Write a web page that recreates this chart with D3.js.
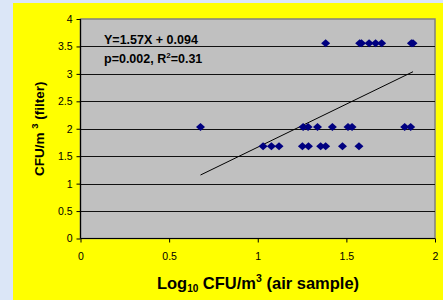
<!doctype html>
<html lang="en">
<head>
<meta charset="utf-8">
<title>CFU filter vs air sample</title>
<script src="https://cdn.jsdelivr.net/npm/d3@7"></script>
<style>
  html, body { margin: 0; padding: 0; }
  body { background: #dbe6f7; font-family: Arial, "Liberation Sans", sans-serif; }
  svg { display: block; }
</style>
</head>
<body>
<svg width="443" height="300"></svg>
<script>
  // data
  var xHigh = [1.383, 1.575, 1.585, 1.628, 1.665, 1.699, 1.867, 1.876];
  var yHigh = 3.56;
  var xMid = [0.677, 1.256, 1.284, 1.337, 1.421, 1.509, 1.532, 1.829, 1.863];
  var yMid = 2.03;
  var xLow = [1.030, 1.077, 1.120, 1.252, 1.286, 1.355, 1.383, 1.478, 1.571];
  var yLow = 1.68;
  var slope = 1.57, intercept = 0.094;
  var xTicks = [0, 0.5, 1, 1.5, 2];
  var yTicks = [0, 0.5, 1, 1.5, 2, 2.5, 3, 3.5, 4];

  var points = [];
  xHigh.forEach(function(x) { points.push({x: x, y: yHigh}); });
  xMid.forEach(function(x) { points.push({x: x, y: yMid}); });
  xLow.forEach(function(x) { points.push({x: x, y: yLow}); });

  var svg = d3.select("svg");

  // yellow panel
  svg.append("rect")
    .attr("x", 13).attr("y", 3)
    .attr("width", 430).attr("height", 297)
    .attr("fill", "#ffff00");

  // plot area edges (not named top/left: those clash with window.top)
  var pLeft = 80.5, pRight = 435, pTop = 19, pBottom = 238.5;

  var x = d3.scaleLinear().domain([0, 2]).range([pLeft, pRight]);
  var y = d3.scaleLinear().domain([0, 4]).range([pBottom, pTop]);

  // plot area
  svg.append("rect")
    .attr("x", pLeft).attr("y", pTop)
    .attr("width", pRight - pLeft).attr("height", pBottom - pTop)
    .attr("fill", "#c0c0c0")
    .attr("stroke", "#808080")
    .attr("stroke-width", 1.5);

  // gridlines
  svg.append("g")
    .selectAll("line")
    .data(yTicks.filter(function(d) { return d > 0 && d < 4; }))
    .join("line")
    .attr("x1", pLeft).attr("x2", pRight)
    .attr("y1", function(d) { return Math.round(y(d)) + 0.5; })
    .attr("y2", function(d) { return Math.round(y(d)) + 0.5; })
    .attr("stroke", "#111")
    .attr("stroke-width", 1);

  // axes
  var yAxis = svg.append("g")
    .attr("transform", "translate(" + pLeft + ",0)")
    .call(d3.axisLeft(y).tickValues(yTicks).tickSize(4).tickPadding(4).tickFormat(d3.format("")));
  var xAxis = svg.append("g")
    .attr("transform", "translate(0," + pBottom + ")")
    .call(d3.axisBottom(x).tickValues(xTicks).tickSize(4).tickPadding(10).tickFormat(d3.format("")));

  [yAxis, xAxis].forEach(function(a) {
    a.select(".domain").attr("stroke", "#000").attr("stroke-width", 1.2);
    a.selectAll(".tick line").attr("stroke", "#000");
    a.selectAll("text")
      .attr("fill", "#000")
      .attr("font-size", 10.5)
      .attr("font-family", "Arial, 'Liberation Sans', sans-serif");
  });
  // drop the outer end stubs of the domain path
  yAxis.select(".domain").attr("d", "M0," + pTop + "V" + pBottom);
  xAxis.select(".domain").attr("d", "M" + pLeft + ",0H" + pRight);

  // trend line
  var xr = d3.extent(points, function(d) { return d.x; });
  svg.append("line")
    .attr("x1", x(xr[0])).attr("y1", y(slope * xr[0] + intercept))
    .attr("x2", x(xr[1])).attr("y2", y(slope * xr[1] + intercept))
    .attr("stroke", "#000")
    .attr("stroke-width", 1);

  // diamonds
  svg.append("g")
    .selectAll("path")
    .data(points)
    .join("path")
    .attr("transform", function(d) { return "translate(" + x(d.x) + "," + y(d.y) + ")"; })
    .attr("d", "M0,-4L4.5,0L0,4L-4.5,0Z")
    .attr("fill", "#000080");

  // equation text
  var eq = svg.append("g")
    .attr("font-size", 12.5)
    .attr("font-weight", "bold")
    .attr("fill", "#000");
  eq.append("text").attr("x", 104).attr("y", 44).text("Y=1.57X + 0.094");
  var t2 = eq.append("text").attr("x", 104).attr("y", 63);
  t2.append("tspan").text("p=0.002, R");
  t2.append("tspan").attr("font-size", 8).attr("dy", -5).text("2");
  t2.append("tspan").attr("dy", 5).text("=0.31");

  // y title
  var yt = svg.append("text")
    .attr("transform", "translate(44," + ((pTop + pBottom) / 2) + ") rotate(-90)")
    .attr("text-anchor", "middle")
    .attr("font-size", 13.5)
    .attr("font-weight", "bold");
  yt.append("tspan").text("CFU/m ");
  yt.append("tspan").attr("font-size", 9.5).attr("dy", -6).text("3");
  yt.append("tspan").attr("dy", 6).text(" (filter)");

  // x title
  var xt = svg.append("text")
    .attr("x", 258).attr("y", 289)
    .attr("text-anchor", "middle")
    .attr("font-size", 16.5)
    .attr("font-weight", "bold");
  xt.append("tspan").text("Log");
  xt.append("tspan").attr("font-size", 10).attr("dy", 3).text("10");
  xt.append("tspan").attr("dy", -3).text(" CFU/m");
  xt.append("tspan").attr("font-size", 10.5).attr("dy", -7).text("3");
  xt.append("tspan").attr("dy", 7).text(" (air sample)");
</script>
</body>
</html>
